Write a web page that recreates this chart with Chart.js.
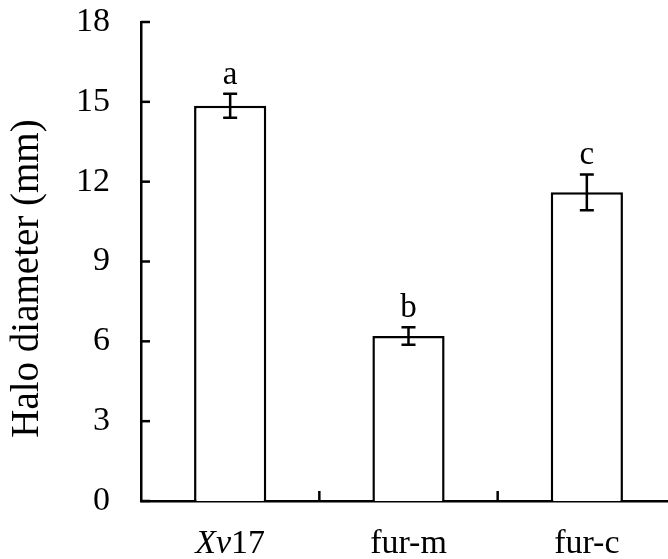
<!DOCTYPE html>
<html lang="en">
<head>
    <meta charset="UTF-8">
    <title>Halo diameter</title>
    <script src="https://cdn.jsdelivr.net/npm/chart.js"></script>
    <style>
        html, body {
            margin: 0;
            padding: 0;
            background: #ffffff;
            overflow: hidden;
            width: 668px;
            height: 559px;
        }
        .wrap {
            position: relative;
            width: 676px; /* plot runs a little past the right edge, like the original */
            height: 559px;
        }
    </style>
</head>
<body>
    <div class="wrap">
        <canvas id="myChart" width="676" height="559"></canvas>
    </div>

    <script>
        // data
        const categories = ['Xv17', 'fur-m', 'fur-c'];
        const italicPart = ['Xv', '', ''];       // italic prefix of each label
        const normalPart = ['17', 'fur-m', 'fur-c'];
        const means = [14.85, 6.2, 11.6];
        const errors = [0.45, 0.33, 0.67];
        const letters = ['a', 'b', 'c'];
        const yTicks = [0, 3, 6, 9, 12, 15, 18];
        const yTitle = 'Halo diameter (mm)';

        const FONT = '"Liberation Serif", "Times New Roman", serif';
        const TICK = 9; // inward tick length

        // error bars, letters, inward ticks, axis title and the x labels
        const extras = {
            id: 'extras',
            afterDatasetsDraw(chart) {
                const ctx = chart.ctx;
                const x = chart.scales.x;
                const y = chart.scales.y;
                ctx.save();
                ctx.strokeStyle = '#000';
                ctx.fillStyle = '#000';
                ctx.lineWidth = 2.5;
                means.forEach(function (m, i) {
                    const cx = x.getPixelForValue(i);
                    const top = y.getPixelForValue(m + errors[i]);
                    const bot = y.getPixelForValue(m - errors[i]);
                    ctx.beginPath();
                    ctx.moveTo(cx, top); ctx.lineTo(cx, bot);
                    ctx.moveTo(cx - 7, top); ctx.lineTo(cx + 7, top);
                    ctx.moveTo(cx - 7, bot); ctx.lineTo(cx + 7, bot);
                    ctx.stroke();
                    ctx.font = '33px ' + FONT;
                    ctx.textAlign = 'center';
                    ctx.textBaseline = 'alphabetic';
                    ctx.fillText(letters[i], cx, top - 10);
                });
                // y ticks pointing into the plot
                yTicks.forEach(function (v) {
                    const py = y.getPixelForValue(v);
                    ctx.beginPath();
                    ctx.moveTo(y.right, py);
                    ctx.lineTo(y.right + TICK, py);
                    ctx.stroke();
                });
                // short upward ticks between categories
                const step = x.getPixelForValue(1) - x.getPixelForValue(0);
                for (let i = 1; i < categories.length; i++) {
                    const bx = x.getPixelForValue(i) - step / 2;
                    ctx.beginPath();
                    ctx.moveTo(bx, y.bottom);
                    ctx.lineTo(bx, y.bottom - TICK - 1);
                    ctx.stroke();
                }
                // y title, sits a bit below the plot centre in the original
                ctx.save();
                ctx.translate(28, (y.top + y.bottom) / 2 + 17);
                ctx.rotate(-Math.PI / 2);
                ctx.font = '39px ' + FONT;
                ctx.textAlign = 'center';
                ctx.textBaseline = 'middle';
                ctx.fillText(yTitle, 0, 0);
                ctx.restore();
                // category labels, italic part in italics
                ctx.textAlign = 'left';
                categories.forEach(function (c, i) {
                    const cx = x.getPixelForValue(i);
                    ctx.font = 'italic 34px ' + FONT;
                    const w1 = ctx.measureText(italicPart[i]).width;
                    ctx.font = '34px ' + FONT;
                    const w2 = ctx.measureText(normalPart[i]).width;
                    const sx = cx - (w1 + w2) / 2;
                    ctx.font = 'italic 34px ' + FONT;
                    ctx.fillText(italicPart[i], sx, y.bottom + 52);
                    ctx.font = '34px ' + FONT;
                    ctx.fillText(normalPart[i], sx + w1, y.bottom + 52);
                });
                ctx.restore();
            }
        };

        const config = {
            type: 'bar',
            data: {
                labels: categories,
                datasets: [{
                    data: means,
                    backgroundColor: '#ffffff',
                    borderColor: '#000000',
                    borderWidth: 2.5,
                    borderSkipped: 'bottom',
                    barPercentage: 0.405,
                    categoryPercentage: 1.0
                }]
            },
            options: {
                responsive: false,
                animation: false,
                layout: { padding: { top: 22, right: 0, left: 0, bottom: 0 } },
                plugins: {
                    legend: { display: false },
                    tooltip: { enabled: false }
                },
                scales: {
                    x: {
                        offset: true,
                        grid: { display: false, drawTicks: false },
                        border: { color: '#000', width: 2.5 },
                        ticks: { display: false },
                        afterFit: function (s) { s.height = 58; }
                    },
                    y: {
                        min: 0,
                        max: 18,
                        afterBuildTicks: function (s) {
                            s.ticks = yTicks.map(function (v) { return { value: v }; });
                        },
                        grid: { display: false, drawTicks: false },
                        border: { color: '#000', width: 2.5 },
                        ticks: {
                            color: '#000',
                            padding: 31,
                            font: { family: FONT, size: 34 }
                        },
                        afterFit: function (s) {
                            s.width = 141;
                            s.paddingTop = 0;
                            s.paddingBottom = 0;
                        }
                    }
                }
            },
            plugins: [extras]
        };

        var myChart = new Chart(document.getElementById('myChart'), config);
    </script>
</body>
</html>
